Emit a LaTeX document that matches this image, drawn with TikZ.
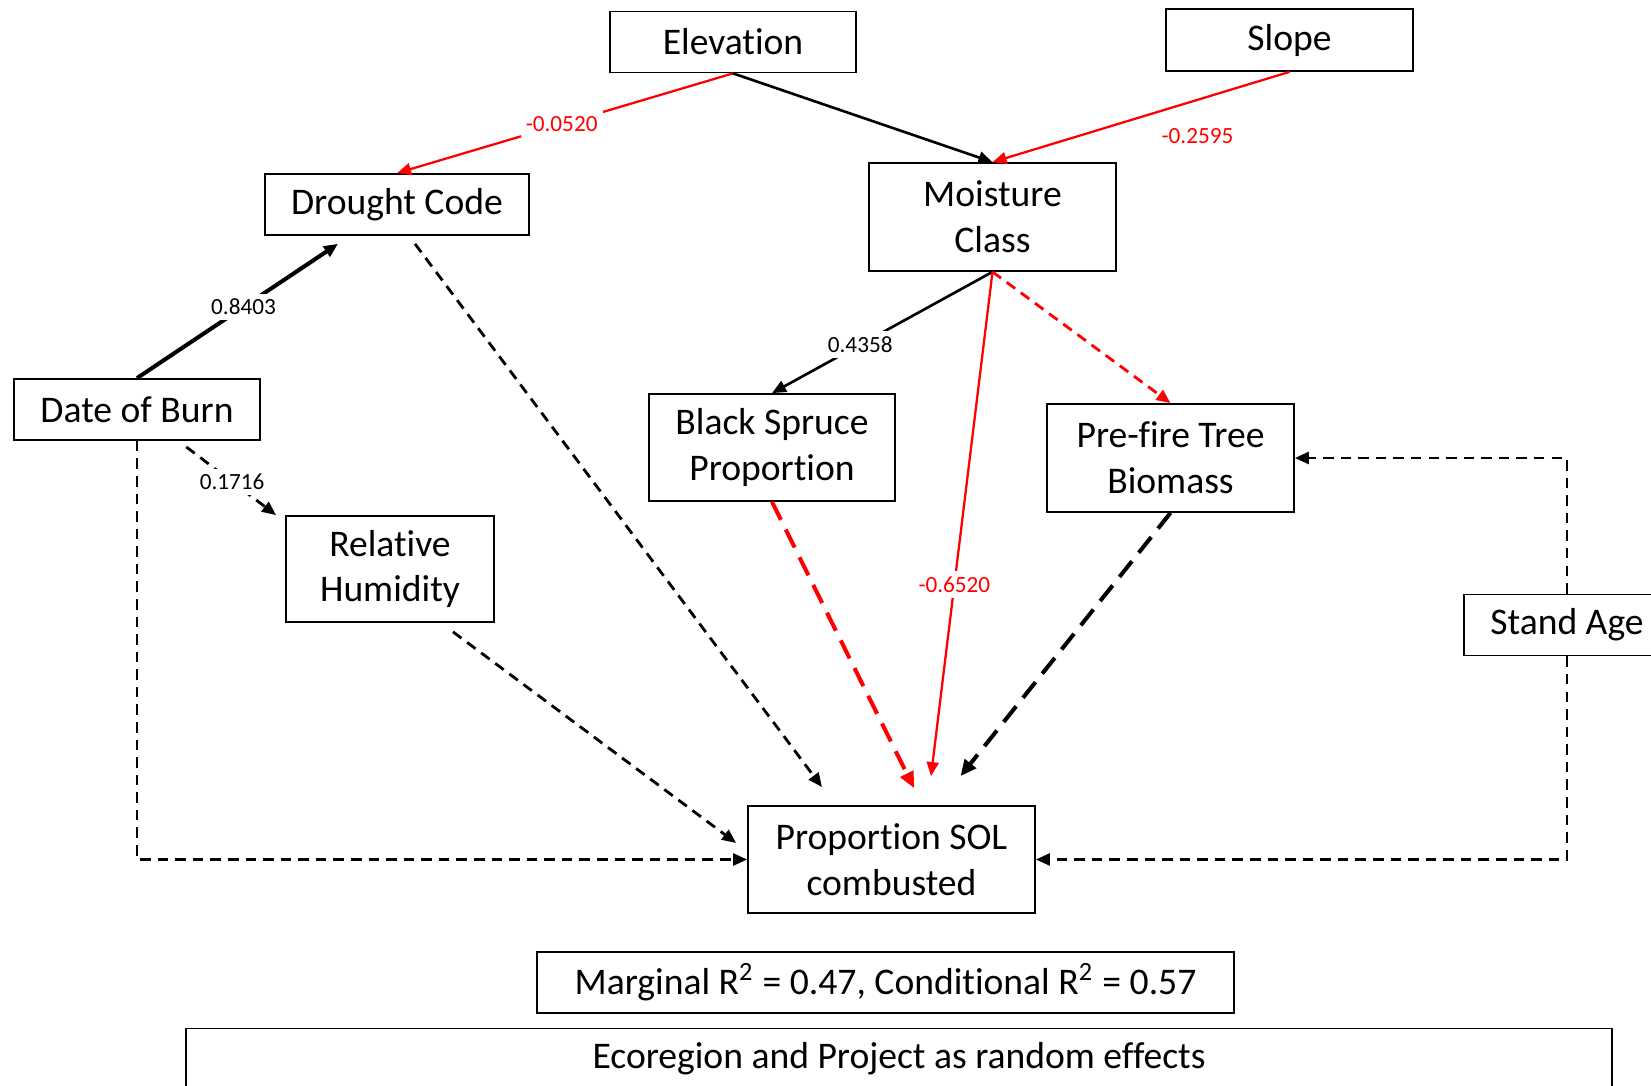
\documentclass[tikz,border=0pt]{standalone}
\usepackage{fontspec}
\setmainfont{Carlito}[RawFeature=-liga, RawFeature=-clig, RawFeature=-dlig, RawFeature=-calt]
\usetikzlibrary{arrows.meta}

\newcommand{\boxfont}{\fontsize{10.7}{13}\selectfont}
\newcommand{\coeffont}{\fontsize{6.6}{8}\selectfont}

\begin{document}
\begin{tikzpicture}
    [box/.style={draw, line width=0.5pt, inner sep=0pt, align=center, font=\boxfont},
     coef/.style={fill=white, inner sep=1.5pt, font=\coeffont},
     link/.style={-{Triangle[length=4pt,width=3.4pt]}, line width=0.75pt},
     dashlink/.style={link, line width=0.8pt, dash pattern=on 3pt off 2pt},
     heavylink/.style={-{Triangle[length=4.6pt,width=4pt]}, line width=1.15pt, dash pattern=on 5.7pt off 3.1pt},
     neg/.style={draw=red, text=red}]
    \useasboundingbox (0,0) rectangle (16.51,10.85);

    % variables
    \node[box, minimum width=2.46cm, minimum height=0.61cm] (elev) at (7.33,10.43) {Elevation};
    \node[box, minimum width=2.47cm, minimum height=0.62cm] (slope) at (12.895,10.45) {Slope};
    \node[box, minimum width=2.64cm, minimum height=0.61cm] (dc) at (3.97,8.805) {Drought Code};
    \node[box, minimum width=2.47cm, minimum height=1.08cm] (mc) at (9.925,8.68) {Moisture\\Class};
    \node[box, minimum width=2.46cm, minimum height=0.61cm] (dob) at (1.37,6.755) {Date of Burn};
    \node[box, minimum width=2.46cm, minimum height=1.07cm] (bs) at (7.72,6.375) {Black Spruce\\Proportion};
    \node[box, minimum width=2.47cm, minimum height=1.08cm] (pf) at (11.705,6.27) {Pre-fire Tree\\Biomass};
    \node[box, minimum width=2.08cm, minimum height=1.06cm] (rh) at (3.90,5.16) {Relative\\Humidity};
    \node[box, minimum width=2.06cm, minimum height=0.61cm] (sa) at (15.67,4.60) {Stand Age};
    \node[box, minimum width=2.87cm, minimum height=1.07cm] (sol) at (8.915,2.255) {Proportion SOL\\combusted};
    \node[box, minimum width=6.97cm, minimum height=0.61cm] (r2) at (8.855,1.025)
        {Marginal R\textsuperscript{2} = 0.47, Conditional R\textsuperscript{2} = 0.57};
    \node[box, minimum width=14.26cm, minimum height=0.61cm] (eco) at (8.99,0.26)
        {Ecoregion and Project as random effects};

    % paths
    \draw[link, neg, line width=0.65pt] (elev.south) -- (dc.north) node[coef, pos=0.51] (c1) {-0.0520};
    \draw[link] (elev.south) -- (mc.north);
    \draw[link, neg, line width=0.65pt] (slope.south) -- (mc.north)
        node[coef, pos=0.31, yshift=-0.36cm] (c2) {-0.2595};
    \draw[link, line width=1.15pt] (dob.north) -- ([xshift=-0.59cm,yshift=-0.08cm]dc.south)
        node[coef, pos=0.53] (c3) {0.8403};
    \draw[dashlink, shorten <=0.1cm] (dob) -- ([xshift=-0.09cm]rh.north west)
        node[coef, pos=0.55] (c4) {0.1716};
    \draw[dashlink] (dob.south) |- (sol.west);
    \draw[dashlink] ([xshift=0.18cm,yshift=-0.08cm]dc.south) -- ([xshift=-0.695cm,yshift=0.18cm]sol.north);
    \draw[dashlink] ([xshift=0.63cm,yshift=-0.09cm]rh.south) -- ([xshift=-0.11cm,yshift=0.165cm]sol.west);
    \draw[link] (mc.south) -- (bs.north) node[coef, pos=0.6] (c5) {0.4358};
    \draw[link, neg, line width=0.65pt] (mc.south) -- ([xshift=0.395cm,yshift=0.29cm]sol.north)
        node[coef, pos=0.62] (c6) {-0.6520};
    \draw[dashlink, neg] (mc.south) -- (pf.north);
    \draw[heavylink, neg] (bs.south) -- ([xshift=0.225cm,yshift=0.17cm]sol.north);
    \draw[heavylink] (pf.south) -- ([xshift=0.69cm,yshift=0.29cm]sol.north);
    \draw[dashlink] (sa.north) |- (pf.east);
    \draw[dashlink] (sa.south) |- (sol.east);
\end{tikzpicture}
\end{document}
